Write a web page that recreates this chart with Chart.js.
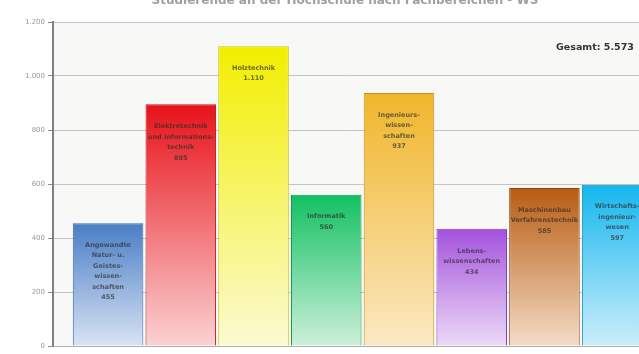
<!DOCTYPE html>
<html>
<head>
<meta charset="utf-8">
<script src="https://cdn.jsdelivr.net/npm/chart.js@4"></script>
<style>
  html, body { margin: 0; padding: 0; background: #ffffff; }
  #wrap { width: 639px; height: 354px; position: relative; overflow: hidden; }
</style>
</head>
<body>
<div id="wrap"><canvas id="myChart01"></canvas></div>
<script>
// Studierende je Fachbereich
var categories = [
    ["Angewandte", "Natur- u.", "Geistes-", "wissen-", "schaften"],
    ["Elektrotechnik", "und Informations-", "technik"],
    ["Holztechnik"],
    ["Informatik"],
    ["Ingenieurs-", "wissen-", "schaften"],
    ["Lebens-", "wissenschaften"],
    ["Maschinenbau", "Verfahrenstechnik"],
    ["Wirtschafts-", "ingenieur-", "wesen"]
];
var values = [455, 895, 1110, 560, 937, 434, 585, 597];
var topColors = ["#4a7dc6", "#e8121a", "#f2ee00", "#12c062", "#f0b62a", "#a452de", "#b85c12", "#14b6ee"];
var bottomColors = ["#d8e4f4", "#fbd2d2", "#fbfad2", "#cdf0da", "#fbe9c4", "#ecdaf6", "#f4dcc6", "#cdeefb"];
var edgeColors = ["#3c6aa8", "#b8161a", "#c8c400", "#129a50", "#c8941c", "#8240b8", "#8c4810", "#1292c0"];
var yTicks = [0, 200, 400, 600, 800, 1000, 1200];
var chartTitle = "Studierende an der Hochschule nach Fachbereichen - WS";

var fmt = new Intl.NumberFormat("de-DE");
var total = values.reduce(function (a, b) { return a + b; }, 0);

var points = values.map(function (v, i) { return { x: i + 1, y: v }; });

function barGradient(context) {
    var chart = context.chart;
    if (!chart.chartArea || context.type !== "data") return topColors[context.dataIndex];
    var yScale = chart.scales.y;
    var top = yScale.getPixelForValue(values[context.dataIndex]);
    var base = yScale.getPixelForValue(0);
    var g = chart.ctx.createLinearGradient(0, top, 0, base);
    g.addColorStop(0, topColors[context.dataIndex]);
    g.addColorStop(1, bottomColors[context.dataIndex]);
    return g;
}

var plotBackground = {
    id: "plotBackground",
    beforeDraw: function (chart) {
        var a = chart.chartArea, ctx = chart.ctx;
        ctx.save();
        ctx.fillStyle = "#f8f8f6";
        ctx.fillRect(a.left, a.top, a.right - a.left, a.bottom - a.top);
        ctx.restore();
    }
};

var barTexts = {
    id: "barTexts",
    afterDatasetsDraw: function (chart) {
        var ctx = chart.ctx;
        var meta = chart.getDatasetMeta(0);
        ctx.save();
        ctx.font = "bold 6.5px 'DejaVu Sans'";
        ctx.fillStyle = "rgba(45,45,45,0.7)";
        ctx.textAlign = "center";
        ctx.textBaseline = "middle";
        meta.data.forEach(function (bar, i) {
            var lines = categories[i].concat([fmt.format(values[i])]);
            lines.forEach(function (line, k) {
                ctx.fillText(line, bar.x, bar.y + 22 + k * 10.5);
            });
        });
        // Titel (oben angeschnitten) und Gesamtsumme
        ctx.font = "bold 12px 'DejaVu Sans'";
        ctx.fillStyle = "#a0a0a0";
        ctx.fillText(chartTitle, 345, 1);
        ctx.font = "bold 9.5px 'DejaVu Sans'";
        ctx.fillStyle = "#333333";
        ctx.textAlign = "left";
        ctx.fillText("Gesamt: " + fmt.format(total), 556, 48);
        ctx.restore();
    }
};

var chartPlaceholder01 = document.getElementById("myChart01");
var newChart01 = new Chart(chartPlaceholder01, {
    type: "bar",
    data: {
        datasets: [{
            data: points,
            backgroundColor: barGradient,
            borderColor: edgeColors,
            borderWidth: 1,
            categoryPercentage: 1,
            barPercentage: 0.97
        }]
    },
    options: {
        responsive: true,
        maintainAspectRatio: false,
        animation: false,
        layout: { padding: { top: 22, bottom: 8, left: 0, right: 0 } },
        plugins: {
            legend: { display: false },
            tooltip: { enabled: false }
        },
        scales: {
            x: {
                type: "linear",
                offset: false,
                min: 0.243,
                max: 8.3,
                afterBuildTicks: function (scale) {
                    scale.ticks = points.map(function (p) { return { value: p.x }; });
                },
                ticks: { display: false },
                grid: { display: false },
                border: { display: true, color: "#b0b0b0", width: 1 },
                afterFit: function (scale) { scale.height = 0; }
            },
            y: {
                min: 0,
                max: 1200,
                afterBuildTicks: function (scale) {
                    scale.ticks = yTicks.map(function (v) { return { value: v }; });
                },
                afterFit: function (scale) { scale.width = 53; },
                ticks: {
                    font: { family: "DejaVu Sans", size: 7 },
                    color: "#9a9a9a",
                    padding: 3,
                    callback: function (v) { return fmt.format(v); }
                },
                grid: {
                    color: "#c4c4c4",
                    lineWidth: 1,
                    tickLength: 5,
                    tickColor: "#8a8a8a"
                },
                border: { color: "#808080", width: 2 }
            }
        }
    },
    plugins: [plotBackground, barTexts]
});
</script>
</body>
</html>
